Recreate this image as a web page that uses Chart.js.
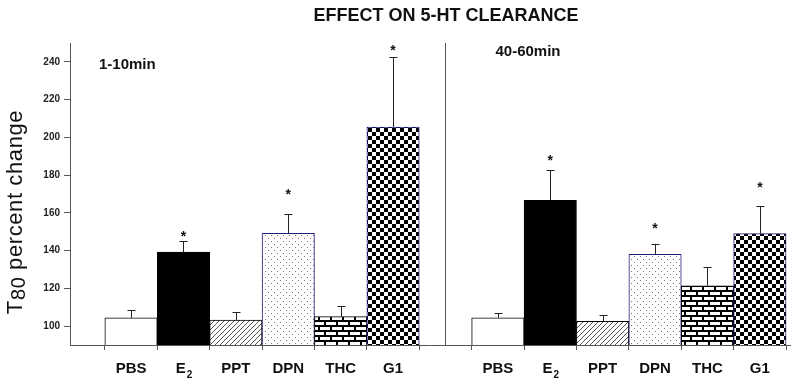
<!DOCTYPE html>
<html lang="en">
<head>
  <meta charset="UTF-8" />
  <title>Effect on 5-HT clearance</title>
  <script src="https://cdn.jsdelivr.net/npm/chart.js"></script>
  <style>
    body { margin: 0; background: #fff; }
    #wrap { width: 800px; height: 383px; position: relative; }
  </style>
</head>
<body>
  <div id="wrap"><canvas id="chart"></canvas></div>
  <script>
    // x axis labels (blank slot before each panel), with subscripts kept apart
    const groups    = ['', 'PBS', 'E', 'PPT', 'DPN', 'THC', 'G1'];
    const groupSubs = ['', '', '2', '', '', '', ''];
    const tickLabels = groups.concat(groups);
    const tickSubs = groupSubs.concat(groupSubs);
    const yTicks = [100, 120, 140, 160, 180, 200, 220, 240];

    // 1-10 min panel
    const earlyMean = [104.4, 139.2, 103.2, 149.2, 105.0, 205.4];
    const earlyErr  = [4.0, 6.0, 4.4, 10.0, 5.5, 37.0];
    const earlyStar = [null, 149.2, null, 171.5, null, 247.9];

    // 40-60 min panel
    const lateMean = [104.4, 166.6, 102.6, 138.1, 121.4, 149.0];
    const lateErr  = [2.6, 16.3, 3.4, 5.6, 10.1, 14.6];
    const lateStar = [null, 189.6, null, 153.6, null, 175.2];

    const FONT = "'Liberation Sans', Arial, sans-serif";

    function makePattern(w, h, draw) {
      const c = document.createElement('canvas');
      c.width = w; c.height = h;
      const g = c.getContext('2d');
      g.fillStyle = '#fff';
      g.fillRect(0, 0, w, h);
      draw(g);
      return g.createPattern(c, 'repeat');
    }

    const hatch = makePattern(5, 5, g => {
      g.strokeStyle = '#555';
      g.lineWidth = 1;
      g.beginPath();
      g.moveTo(0, 5); g.lineTo(5, 0);
      g.moveTo(-1, 1); g.lineTo(1, -1);
      g.moveTo(4, 6); g.lineTo(6, 4);
      g.stroke();
    });
    const dots = makePattern(6, 6, g => {
      g.fillStyle = '#777';
      g.fillRect(1, 1, 1, 1);
      g.fillRect(4, 4, 1, 1);
    });
    const brick = makePattern(12, 10, g => {
      g.fillStyle = '#000';
      g.fillRect(0, 0, 12, 2);
      g.fillRect(0, 5, 12, 2);
      g.fillRect(0, 2, 2, 3);
      g.fillRect(6, 7, 2, 3);
    });
    const checker = makePattern(8, 8, g => {
      g.fillStyle = '#000';
      g.fillRect(0, 0, 4, 4);
      g.fillRect(4, 4, 4, 4);
    });

    const fills = ['#fff', '#000', hatch, dots, brick, checker];
    const edges = ['#000', '#000', '#000', '#1c1c80', '#000', '#1c1c80'];

    const points = [];
    const errs = [];
    const stars = [];
    const bg = [];
    const bd = [];
    earlyMean.forEach((v, i) => {
      points.push({ x: i + 1, y: v });
      errs.push(earlyErr[i]); stars.push(earlyStar[i]);
      bg.push(fills[i]); bd.push(edges[i]);
    });
    lateMean.forEach((v, i) => {
      points.push({ x: i + 8, y: v });
      errs.push(lateErr[i]); stars.push(lateStar[i]);
      bg.push(fills[i]); bd.push(edges[i]);
    });

    const decorations = {
      id: 'decorations',
      afterDatasetsDraw(chart) {
        const ctx = chart.ctx;
        const xs = chart.scales.x, ys = chart.scales.y;
        const area = chart.chartArea;
        const meta = chart.getDatasetMeta(0);
        ctx.save();

        // error bars (upper only) and significance marks
        ctx.strokeStyle = '#222';
        ctx.lineWidth = 1;
        meta.data.forEach((bar, i) => {
          const x = Math.round(bar.x) + 0.5;
          const top = ys.getPixelForValue(points[i].y);
          const cap = Math.round(ys.getPixelForValue(points[i].y + errs[i])) + 0.5;
          ctx.beginPath();
          ctx.moveTo(x, top);
          ctx.lineTo(x, cap);
          ctx.moveTo(x - 4, cap);
          ctx.lineTo(x + 4, cap);
          ctx.stroke();
          if (stars[i] != null) {
            ctx.fillStyle = '#111';
            ctx.font = 'bold 14px ' + FONT;
            ctx.textAlign = 'center';
            ctx.textBaseline = 'alphabetic';
            ctx.fillText('*', bar.x, ys.getPixelForValue(stars[i]) + 8);
          }
        });

        // panel divider
        const dx = Math.round(xs.getPixelForValue(7)) + 0.5;
        ctx.strokeStyle = '#555';
        ctx.beginPath();
        ctx.moveTo(dx, area.top);
        ctx.lineTo(dx, area.bottom);
        ctx.stroke();

        // x labels with subscripts
        ctx.fillStyle = '#111';
        ctx.textBaseline = 'alphabetic';
        tickLabels.forEach((lab, i) => {
          if (!lab) return;
          ctx.font = 'bold 15px ' + FONT;
          const wMain = ctx.measureText(lab).width;
          ctx.font = 'bold 10px ' + FONT;
          const wSub = tickSubs[i] ? ctx.measureText(tickSubs[i]).width : 0;
          let px = xs.getPixelForValue(i) - (wMain + wSub) / 2;
          ctx.textAlign = 'left';
          ctx.font = 'bold 15px ' + FONT;
          ctx.fillText(lab, px, 372.5);
          if (tickSubs[i]) {
            ctx.font = 'bold 10px ' + FONT;
            ctx.fillText(tickSubs[i], px + wMain + 1, 378);
          }
        });

        // title and panel labels
        ctx.textBaseline = 'middle';
        ctx.textAlign = 'center';
        ctx.font = 'bold 18px ' + FONT;
        ctx.fillText('EFFECT ON 5-HT CLEARANCE', 446, 16);
        ctx.textAlign = 'left';
        ctx.font = 'bold 15px ' + FONT;
        ctx.fillText('1-10min', area.left + 29, 65);
        ctx.fillText('40-60min', dx + 50, 52);

        // y axis title with lowered "80"
        ctx.translate(15, 212);
        ctx.rotate(-Math.PI / 2);
        ctx.letterSpacing = '0.6px';
        const big = '22px ' + FONT, mid = '20px ' + FONT;
        ctx.font = big;
        const wT = ctx.measureText('T').width;
        const wRest = ctx.measureText(' percent change').width;
        ctx.font = mid;
        const w80 = ctx.measureText('80').width;
        let px = -(wT + w80 + wRest) / 2;
        ctx.textBaseline = 'alphabetic';
        ctx.font = big;
        ctx.fillText('T', px, 7);
        px += wT;
        ctx.font = mid;
        ctx.fillText('80', px, 10);
        px += w80;
        ctx.font = big;
        ctx.fillText(' percent change', px, 7);
        ctx.restore();
      }
    };

    new Chart(document.getElementById('chart'), {
      type: 'bar',
      data: {
        datasets: [{
          data: points,
          backgroundColor: bg,
          borderColor: bd,
          borderWidth: 1,
          barPercentage: 1,
          categoryPercentage: 1
        }]
      },
      options: {
        responsive: true,
        maintainAspectRatio: false,
        animation: false,
        layout: { padding: { top: 43, right: 10, left: 0, bottom: 0 } },
        plugins: {
          legend: { display: false },
          tooltip: { enabled: false }
        },
        scales: {
          x: {
            type: 'linear',
            min: -0.165,
            max: 13.575,
            offset: false,
            afterFit(scale) { scale.height = 38; },
            afterBuildTicks(scale) {
              scale.ticks = tickLabels.map((_, i) => ({ value: i }));
            },
            grid: { drawOnChartArea: false, drawTicks: true, tickLength: 5, color: '#555' },
            border: { color: '#555', width: 1 },
            ticks: { display: false }
          },
          y: {
            min: 90,
            max: 250,
            afterFit(scale) { scale.width = 70; },
            afterBuildTicks(scale) {
              scale.ticks = yTicks.map(v => ({ value: v }));
            },
            grid: { drawOnChartArea: false, drawTicks: true, tickLength: 6, color: '#555' },
            border: { color: '#555', width: 1 },
            ticks: {
              padding: 4,
              color: '#222',
              font: { family: FONT, size: 10, weight: 'bold' }
            }
          }
        }
      },
      plugins: [decorations]
    });
  </script>
</body>
</html>
